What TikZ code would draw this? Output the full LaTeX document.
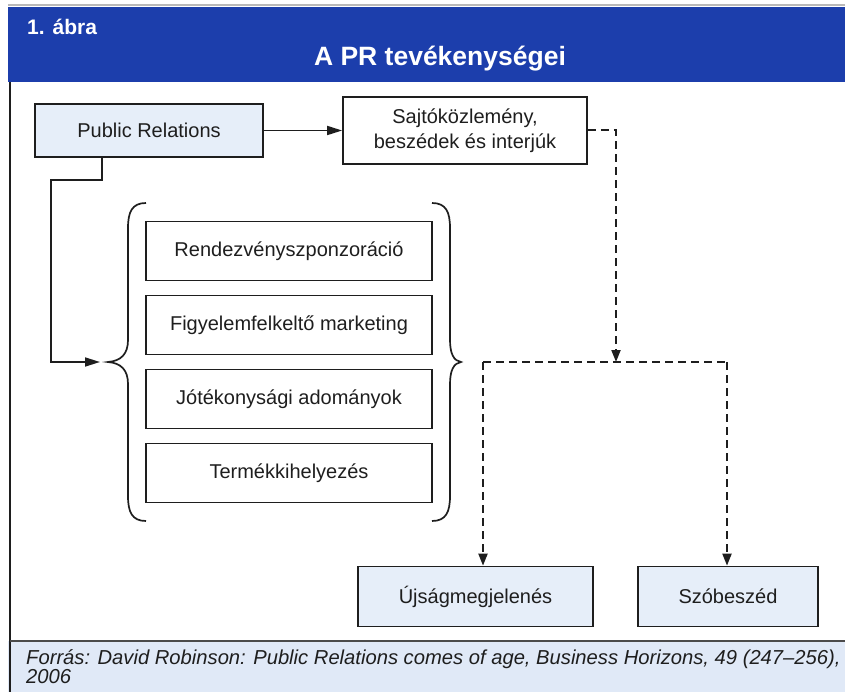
\documentclass[tikz,border=0pt]{standalone}
\usepackage{fontspec}
\setmainfont{Liberation Sans}
\usetikzlibrary{arrows.meta}
\definecolor{hdrblue}{RGB}{28,62,172}
\definecolor{boxblue}{RGB}{230,238,249}
\definecolor{footblue}{RGB}{224,233,247}
\definecolor{ink}{RGB}{30,30,30}

\begin{document}
\begin{tikzpicture}[x=1pt,y=-1pt,
  box/.style={draw=ink, line width=1.7pt, inner sep=0pt, text=ink,
    font=\fontsize{20}{25}\selectfont, align=center},
  bluebox/.style={box, fill=boxblue},
  solid arrow/.style={draw=ink, line width=1.7pt, -{Triangle[length=15pt,width=9pt]}},
  dash line/.style={draw=ink, line width=2pt, dash pattern=on 8pt off 5pt},
  dash arrow/.style={dash line, -{Triangle[length=12pt,width=9pt]}}]
\useasboundingbox (0,0) rectangle (845,692);

%% frame
\draw[gray!55, line width=1.5pt] (8,5) -- (845,5);
\fill[hdrblue] (8,7) rectangle (845,82);
\fill[footblue] (8,641) rectangle (845,692);
\draw[ink, line width=1.6pt] (10,82) -- (10,692);
\draw[ink!80, line width=1.5pt] (10,641) -- (845,641);
\node[anchor=base west, text=white, inner sep=0pt, font=\bfseries\fontsize{21}{25}\selectfont] (fignum) at (27,35) {1.\hspace{8pt}ábra};
\node[anchor=base, text=white, inner sep=0pt, font=\bfseries\fontsize{26.5}{30}\selectfont] (title) at (440,66) {A PR tevékenységei};

%% boxes
\node[bluebox, minimum width=228pt, minimum height=53pt] (pr) at (149,130.5) {Public Relations};
\node[box, minimum width=244pt, minimum height=67pt] (press) at (465,130.5) {Sajtóközlemény,\\beszédek és interjúk};
\node[box, minimum width=286pt, minimum height=59pt] (event) at (289,251) {Rendezvényszponzoráció};
\node[box, minimum width=286pt, minimum height=59pt] (guerilla) at (289,325) {Figyelemfelkeltő marketing};
\node[box, minimum width=286pt, minimum height=59pt] (charity) at (289,399) {Jótékonysági adományok};
\node[box, minimum width=286pt, minimum height=59pt] (placement) at (289,473) {Termékkihelyezés};
\node[bluebox, minimum width=235pt, minimum height=60pt] (newsp) at (475.5,596.5) {Újságmegjelenés};
\node[bluebox, minimum width=180pt, minimum height=60pt] (gossip) at (728,596.5) {Szóbeszéd};

%% braces
\coordinate (ltip) at (108,362);
\coordinate (rtip) at (461,362);
\draw[ink, line width=1.7pt] (146,203) .. controls (132,203) and (128,212) .. (128,228) -- (128,340)
  .. controls (128,354) and (121,361) .. (ltip) .. controls (121,363) and (128,370) .. (128,384)
  -- (128,496) .. controls (128,512) and (132,521) .. (146,521);
\draw[ink, line width=1.7pt] (432,203) .. controls (446,203) and (450,212) .. (450,228) -- (450,340)
  .. controls (450,354) and (454,361) .. (rtip) .. controls (454,363) and (450,370) .. (450,384)
  -- (450,496) .. controls (450,512) and (446,521) .. (432,521);

%% connectors
\draw[solid arrow] (pr) -- (press);
\draw[solid arrow] ([xshift=-47pt]pr.south) -- ++(0,22) -| (51,362) -- ([xshift=-8pt]ltip);
\coordinate (junction) at (616,362);
\coordinate (jl) at (483,362);
\coordinate (jr) at (727,362);
\draw[dash arrow] (press.east) -| (junction);
\draw[dash line] (jl) -- (jr);
\draw[dash arrow] (jl) -- (jl |- newsp.north);
\draw[dash arrow] (jr) -- (jr |- gossip.north);

%% source
\node[anchor=base west, inner sep=0pt, align=left, text=ink, font=\itshape\fontsize{20.2}{19}\selectfont] (source) at (26,683)
  {Forrás: David Robinson: Public Relations comes of age, Business Horizons, 49 (247–256),\\2006};
\end{tikzpicture}
\end{document}
